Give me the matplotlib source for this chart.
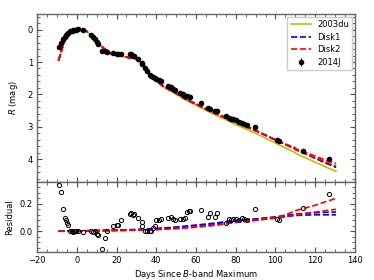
import numpy as np
import matplotlib
matplotlib.use("Agg")
import matplotlib.pyplot as plt
from matplotlib.ticker import AutoMinorLocator, MultipleLocator

# 2014J observations (R band) and residuals against the 2003du template
obs_days = [-8.9, -7.9, -6.8, -5.8, -5.3, -4.9, -4.5, -3.5, -2.6, -1.8, -1.0, -0.3, 0.7, 3.2,
            7.4, 8.3, 9.1, 10.2, 10.7, 12.9, 14.1, 15.3, 18.3, 20.0, 21.0, 22.5, 26.7, 27.5,
            28.4, 28.9, 30.9, 32.6, 33.0, 34.3, 35.1, 36.7, 37.6, 38.5, 39.3, 40.1, 41.5, 42.2,
            46.0, 47.2, 48.6, 49.5, 51.9, 53.6, 54.5, 55.5, 56.3, 57.0, 62.4, 66.0, 67.0, 69.5,
            70.7, 75.3, 76.5, 77.5, 78.5, 80.0, 81.5, 83.0, 84.0, 85.5, 89.6, 100.8, 101.8,
            114.0, 127.1]
obs_mag = [0.54, 0.41, 0.30, 0.22, 0.17, 0.13, 0.10, 0.05, 0.03, 0.02, 0.01, 0.00, -0.02, 0.00,
           0.18, 0.24, 0.29, 0.38, 0.43, 0.67, 0.66, 0.70, 0.72, 0.74, 0.75, 0.76, 0.74, 0.76,
           0.80, 0.81, 0.92, 1.04, 1.06, 1.19, 1.29, 1.39, 1.42, 1.45, 1.50, 1.53, 1.57, 1.60,
           1.73, 1.76, 1.82, 1.85, 1.95, 1.99, 2.05, 2.05, 2.07, 2.08, 2.25, 2.42, 2.45, 2.50,
           2.52, 2.68, 2.72, 2.75, 2.77, 2.80, 2.84, 2.88, 2.90, 2.93, 3.01, 3.42, 3.44,
           3.74, 4.00]
obs_err = [0.03] * len(obs_days)
obs_resid = [0.34, 0.29, 0.16, 0.10, 0.08, 0.06, 0.045, 0.0, 0.0, -0.005, 0.0, 0.002, 0.0, -0.005,
             0.0, -0.005, 0.0, -0.02, -0.03, -0.127, -0.05, 0.0, 0.04, 0.045, 0.045, 0.08, 0.125, 0.13,
             0.12, 0.125, 0.10, 0.07, 0.04, 0.0, 0.0, 0.005, 0.005, 0.02, 0.04, 0.08, 0.08, 0.086,
             0.10, 0.105, 0.09, 0.08, 0.09, 0.09, 0.10, 0.14, 0.15, 0.145, 0.154, 0.105, 0.134, 0.105,
             0.13, 0.061, 0.09, 0.08, 0.09, 0.09, 0.085, 0.095, 0.09, 0.08, 0.159, 0.09, 0.085,
             0.17, 0.27]

# model light curves
model_days = [-9.2, -8, -7, -6, -5, -4, -3, -2, -1, 0.5, 2, 3.5, 5, 6.5, 8, 9.5, 11, 12.5, 14,
              15.5, 17, 19, 21, 23, 25, 26.5, 28, 29.5, 31, 33, 35, 37, 39, 41, 43, 46, 50, 55,
              60, 65, 70, 75, 80, 85, 90, 95, 100, 105, 109.5, 110.5, 115, 120, 125, 130.5]
sn2003du = [0.95, 0.72, 0.50, 0.34, 0.20, 0.10, 0.04, 0.01, 0.00, -0.02, -0.01, 0.00, 0.05, 0.14,
            0.24, 0.33, 0.43, 0.52, 0.61, 0.69, 0.74, 0.77, 0.80, 0.83, 0.85, 0.89, 0.86, 0.90,
            0.98, 1.08, 1.27, 1.43, 1.53, 1.64, 1.74, 1.86, 1.99, 2.18, 2.33, 2.49, 2.64, 2.78,
            2.93, 3.06, 3.20, 3.35, 3.50, 3.65, 3.78, 3.83, 3.95, 4.09, 4.23, 4.37]
disk1_a = [0.95, 0.72, 0.50, 0.34, 0.20, 0.10, 0.04, 0.01, 0.00, -0.02, -0.01, 0.00, 0.05, 0.14,
           0.24, 0.33, 0.42, 0.51, 0.60, 0.68, 0.73, 0.76, 0.79, 0.82, 0.84, 0.88, 0.85, 0.89,
           0.97, 1.07, 1.25, 1.41, 1.51, 1.62, 1.71, 1.83, 1.96, 2.14, 2.29, 2.44, 2.58, 2.71,
           2.85, 2.97, 3.11, 3.25, 3.40, 3.54, 3.66, 3.70, 3.82, 3.96, 4.09, 4.23]
disk1_b = [0.95, 0.72, 0.50, 0.34, 0.20, 0.10, 0.04, 0.01, 0.00, -0.02, -0.01, 0.00, 0.05, 0.14,
           0.24, 0.33, 0.42, 0.51, 0.60, 0.68, 0.73, 0.76, 0.79, 0.82, 0.84, 0.88, 0.85, 0.89,
           0.97, 1.07, 1.25, 1.41, 1.51, 1.62, 1.72, 1.83, 1.96, 2.15, 2.29, 2.44, 2.59, 2.72,
           2.86, 2.98, 3.12, 3.26, 3.40, 3.54, 3.67, 3.71, 3.83, 3.97, 4.11, 4.25]
disk2_a = [0.95, 0.72, 0.50, 0.34, 0.20, 0.10, 0.04, 0.01, 0.00, -0.02, -0.01, 0.00, 0.05, 0.14,
           0.24, 0.33, 0.43, 0.52, 0.61, 0.69, 0.74, 0.77, 0.79, 0.82, 0.84, 0.88, 0.85, 0.89,
           0.97, 1.07, 1.26, 1.42, 1.52, 1.63, 1.73, 1.84, 1.97, 2.16, 2.30, 2.45, 2.60, 2.73,
           2.87, 2.99, 3.12, 3.26, 3.41, 3.55, 3.66, 3.71, 3.82, 3.95, 4.08, 4.21]
disk2_b = [0.95, 0.72, 0.50, 0.34, 0.20, 0.10, 0.04, 0.01, 0.00, -0.02, -0.01, 0.00, 0.05, 0.14,
           0.24, 0.33, 0.43, 0.52, 0.61, 0.69, 0.74, 0.77, 0.79, 0.82, 0.84, 0.88, 0.85, 0.89,
           0.97, 1.07, 1.26, 1.42, 1.52, 1.63, 1.73, 1.84, 1.97, 2.16, 2.30, 2.45, 2.60, 2.73,
           2.87, 2.99, 3.12, 3.26, 3.40, 3.53, 3.63, 3.68, 3.78, 3.90, 4.02, 4.13]

# disk model residuals (2003du minus disk)
res_days = [-9.2, 0, 10, 20, 30, 40, 50, 60, 70, 80, 90, 100, 105, 110, 115, 120, 125, 130.5]
res_disk1_a = [0.0, 0.002, 0.005, 0.008, 0.012, 0.02, 0.03, 0.045, 0.06, 0.08, 0.09, 0.105, 0.115, 0.125, 0.13, 0.135, 0.138, 0.14]
res_disk1_b = [0.0, 0.002, 0.005, 0.008, 0.012, 0.018, 0.028, 0.04, 0.055, 0.075, 0.085, 0.10, 0.108, 0.115, 0.118, 0.12, 0.12, 0.12]
res_disk2_a = [0.0, 0.0, 0.002, 0.005, 0.008, 0.012, 0.02, 0.03, 0.045, 0.065, 0.08, 0.095, 0.105, 0.12, 0.13, 0.14, 0.15, 0.16]
res_disk2_b = [0.0, 0.0, 0.002, 0.005, 0.008, 0.012, 0.02, 0.03, 0.045, 0.065, 0.08, 0.10, 0.12, 0.15, 0.17, 0.19, 0.215, 0.24]

plt.rcParams['font.size'] = 6
plt.rcParams['mathtext.fontset'] = 'dejavusans'

fig = plt.figure(figsize=(3.74, 2.8), dpi=100)
ax1 = fig.add_axes([0.099, 0.35, 0.85, 0.60])
ax2 = fig.add_axes([0.099, 0.101, 0.85, 0.249], sharex=ax1)

ax1.plot(model_days, sn2003du, color='y', lw=1.2, label='2003du')
ax1.plot(model_days, disk1_a, color='b', ls='--', lw=1.2, label='Disk1')
ax1.plot(model_days, disk1_b, color='b', ls='--', lw=1.2)
ax1.plot(model_days, disk2_a, color='r', ls='--', lw=1.2, label='Disk2')
ax1.plot(model_days, disk2_b, color='r', ls='--', lw=1.2)
ax1.errorbar(obs_days, obs_mag, yerr=obs_err, fmt='o', color='k', ms=3,
             elinewidth=0.8, capsize=0, label='2014J')
ax1.set_ylim(4.7, -0.48)
ax1.set_ylabel('$R$ (mag)')
ax1.yaxis.set_label_coords(-0.053, 0.5)
ax1.legend(loc='upper right', fontsize=6, handlelength=2.4, borderpad=0.4,
           labelspacing=0.45, handletextpad=0.8, fancybox=False, framealpha=1,
           edgecolor='0.8', borderaxespad=0.3)

ax2.plot(res_days, res_disk1_a, color='b', ls='--', lw=1.2)
ax2.plot(res_days, res_disk1_b, color='b', ls='--', lw=1.2)
ax2.plot(res_days, res_disk2_a, color='r', ls='--', lw=1.2)
ax2.plot(res_days, res_disk2_b, color='r', ls='--', lw=1.2)
ax2.plot(obs_days, obs_resid, 'o', mfc='none', mec='k', ms=3, mew=0.7)
ax2.set_ylim(-0.15, 0.36)
ax2.set_xlim(-20, 140)
ax2.set_ylabel('Residual')
ax2.yaxis.set_label_coords(-0.072, 0.5)
ax2.set_xlabel('Days Since $B$-band Maximum', labelpad=2)

ax1.xaxis.set_major_locator(MultipleLocator(20))
ax1.yaxis.set_major_locator(MultipleLocator(1))
ax2.yaxis.set_major_locator(MultipleLocator(0.2))
plt.setp(ax1.get_xticklabels(), visible=False)

for ax in (ax1, ax2):
    ax.xaxis.set_minor_locator(AutoMinorLocator(4))
    ax.yaxis.set_minor_locator(AutoMinorLocator(5))
    ax.tick_params(which='both', direction='in', top=True, right=True, color='0.3', pad=3)
    ax.tick_params(which='major', length=3.5, width=0.8)
    ax.tick_params(which='minor', length=2, width=0.6)
    for s in ax.spines.values():
        s.set_color('0.4')
        s.set_linewidth(1.0)

fig.savefig('out.png', dpi=100)
